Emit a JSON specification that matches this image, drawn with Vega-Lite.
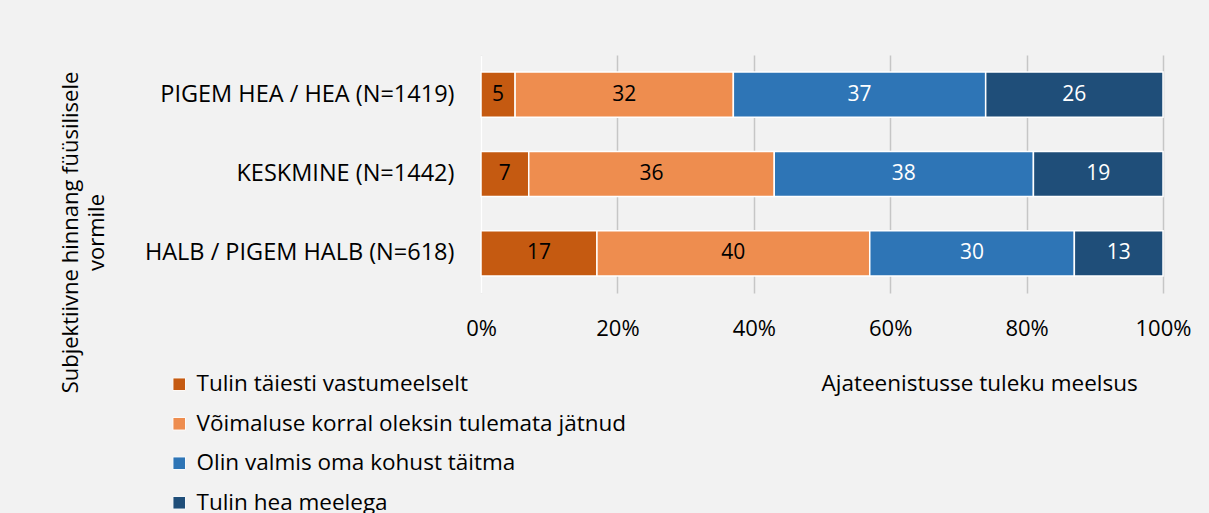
{
  "$schema": "https://vega.github.io/schema/vega-lite/v6.json",
  "width": 682,
  "height": 238,
  "autosize": {"type": "none"},
  "padding": {"left": 481, "top": 55, "right": 46, "bottom": 220},
  "background": "#f2f2f2",
  "config": {
    "view": {"stroke": null},
    "font": "Open Sans",
    "text": {"font": "Open Sans"}
  },
  "data": {
    "values": [
      {"group": "PIGEM HEA / HEA (N=1419)", "cat": "Tulin täiesti vastumeelselt", "ord": 1, "value": 5},
      {"group": "PIGEM HEA / HEA (N=1419)", "cat": "Võimaluse korral oleksin tulemata jätnud", "ord": 2, "value": 32},
      {"group": "PIGEM HEA / HEA (N=1419)", "cat": "Olin valmis oma kohust täitma", "ord": 3, "value": 37},
      {"group": "PIGEM HEA / HEA (N=1419)", "cat": "Tulin hea meelega", "ord": 4, "value": 26},
      {"group": "KESKMINE (N=1442)", "cat": "Tulin täiesti vastumeelselt", "ord": 1, "value": 7},
      {"group": "KESKMINE (N=1442)", "cat": "Võimaluse korral oleksin tulemata jätnud", "ord": 2, "value": 36},
      {"group": "KESKMINE (N=1442)", "cat": "Olin valmis oma kohust täitma", "ord": 3, "value": 38},
      {"group": "KESKMINE (N=1442)", "cat": "Tulin hea meelega", "ord": 4, "value": 19},
      {"group": "HALB / PIGEM HALB (N=618)", "cat": "Tulin täiesti vastumeelselt", "ord": 1, "value": 17},
      {"group": "HALB / PIGEM HALB (N=618)", "cat": "Võimaluse korral oleksin tulemata jätnud", "ord": 2, "value": 40},
      {"group": "HALB / PIGEM HALB (N=618)", "cat": "Olin valmis oma kohust täitma", "ord": 3, "value": 30},
      {"group": "HALB / PIGEM HALB (N=618)", "cat": "Tulin hea meelega", "ord": 4, "value": 13}
    ]
  },
  "transform": [
    {"stack": "value", "groupby": ["group"], "sort": [{"field": "ord", "order": "ascending"}], "as": ["v0", "v1"]},
    {"calculate": "(datum.v0 + datum.v1) / 2", "as": "mid"}
  ],
  "encoding": {
    "y": {
      "field": "group",
      "type": "nominal",
      "sort": ["PIGEM HEA / HEA (N=1419)", "KESKMINE (N=1442)", "HALB / PIGEM HALB (N=618)"],
      "scale": {"paddingInner": 0.43, "paddingOuter": 0.215},
      "axis": {
        "title": ["Subjektiivne hinnang füüsilisele", "vormile"],
        "titleFont": "Open Sans",
        "titleFontSize": 22,
        "titleFontWeight": "normal",
        "titleColor": "#000000",
        "titleAngle": -90,
        "titleAlign": "center",
        "titleBaseline": "middle",
        "titleX": -411,
        "titleY": 177,
        "titleLineHeight": 26,
        "labelFont": "Open Sans",
        "labelFontSize": 23.5,
        "labelColor": "#000000",
        "labelPadding": 27,
        "labelLimit": 400,
        "ticks": false,
        "domain": true,
        "domainColor": "#ffffff",
        "domainWidth": 2,
        "grid": false
      }
    }
  },
  "layer": [
    {
      "mark": {"type": "bar", "stroke": "#ffffff", "strokeWidth": 1.5},
      "encoding": {
        "x": {
          "field": "v0",
          "type": "quantitative",
          "scale": {"domain": [0, 100], "nice": false},
          "axis": {
            "title": "Ajateenistusse tuleku meelsus",
            "titleFont": "Open Sans",
            "titleFontSize": 22.5,
            "titleFontWeight": "normal",
            "titleColor": "#000000",
            "titleAlign": "left",
            "titleAnchor": "start",
            "titleBaseline": "middle",
            "titleX": 340,
            "titleY": 90,
            "values": [0, 20, 40, 60, 80, 100],
            "labelExpr": "datum.value + '%'",
            "labelFont": "Open Sans",
            "labelFontSize": 22,
            "labelColor": "#000000",
            "labelPadding": 25,
            "labelFlush": false,
            "ticks": false,
            "domain": false,
            "grid": true,
            "gridColor": "#c6c6c6",
            "gridWidth": 1.5
          }
        },
        "x2": {"field": "v1"},
        "color": {
          "field": "cat",
          "type": "nominal",
          "sort": ["Tulin täiesti vastumeelselt", "Võimaluse korral oleksin tulemata jätnud", "Olin valmis oma kohust täitma", "Tulin hea meelega"],
          "scale": {
            "domain": ["Tulin täiesti vastumeelselt", "Võimaluse korral oleksin tulemata jätnud", "Olin valmis oma kohust täitma", "Tulin hea meelega"],
            "range": ["#c55a11", "#ee8d4f", "#2e75b6", "#1f4e79"]
          },
          "legend": {
            "title": null,
            "orient": "none",
            "legendX": -313,
            "legendY": 318,
            "direction": "vertical",
            "symbolType": "square",
            "symbolSize": 160,
            "symbolStrokeColor": "#ffffff",
            "symbolStrokeWidth": 1,
            "symbolOpacity": 1,
            "labelFont": "Open Sans",
            "labelFontSize": 22.5,
            "labelColor": "#000000",
            "labelLimit": 600,
            "labelOffset": 6,
            "rowPadding": 16.5
          }
        }
      }
    },
    {
      "mark": {"type": "text", "fontSize": 21, "font": "Open Sans", "baseline": "middle", "align": "center"},
      "encoding": {
        "x": {"field": "mid", "type": "quantitative"},
        "text": {"field": "value", "type": "quantitative"},
        "color": {
          "condition": {"test": "datum.ord >= 3", "value": "#ffffff"},
          "value": "#000000"
        }
      }
    }
  ]
}
